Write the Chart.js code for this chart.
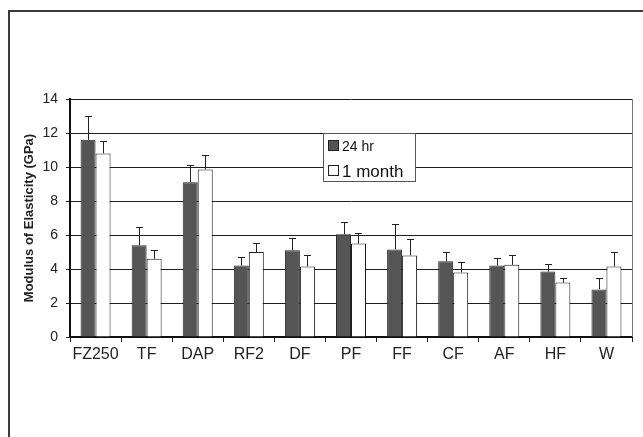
<!DOCTYPE html>
<html>
<head>
<meta charset="utf-8">
<script src="https://cdn.jsdelivr.net/npm/chart.js@4/dist/chart.umd.min.js"></script>
<style>
html,body{margin:0;padding:0;background:#fff;}
#wrap{width:643px;height:437px;}
</style>
</head>
<body>
<div id="wrap"><canvas id="c" width="643" height="437"></canvas></div>
<script>
const categories = ['FZ250','TF','DAP','RF2','DF','PF','FF','CF','AF','HF','W'];
const seriesNames = ['24 hr','1 month'];
const values24hr = [11.6, 5.4, 9.1, 4.2, 5.1, 6.05, 5.15, 4.45, 4.2, 3.85, 2.8];
const values1month = [10.8, 4.6, 9.85, 5.0, 4.15, 5.5, 4.8, 3.8, 4.25, 3.2, 4.15];
const sd24hr = [1.4, 1.05, 1.0, 0.5, 0.75, 0.7, 1.5, 0.55, 0.45, 0.45, 0.7];
const sd1month = [0.75, 0.5, 0.85, 0.55, 0.7, 0.6, 0.95, 0.6, 0.55, 0.25, 0.85];
const yTicks = [0, 2, 4, 6, 8, 10, 12, 14];

const FONT = '"Liberation Sans", Arial, sans-serif';

const errorBars = {
  id: 'errorBars',
  afterDatasetsDraw(chart) {
    const ctx = chart.ctx;
    const ys = chart.scales.y;
    chart.data.datasets.forEach((ds, di) => {
      const meta = chart.getDatasetMeta(di);
      meta.data.forEach((bar, i) => {
        const top = ys.getPixelForValue(ds.data[i] + ds.errors[i]);
        const base = ys.getPixelForValue(ds.data[i]);
        const x = Math.round(bar.x) + 0.5;
        ctx.save();
        ctx.strokeStyle = '#222';
        ctx.lineWidth = 1;
        ctx.beginPath();
        ctx.moveTo(x, base);
        ctx.lineTo(x, Math.round(top) + 0.5);
        ctx.moveTo(x - 3.5, Math.round(top) + 0.5);
        ctx.lineTo(x + 3.5, Math.round(top) + 0.5);
        ctx.stroke();
        ctx.restore();
      });
    });
  }
};

const frame = {
  id: 'frame',
  beforeDraw(chart) {
    const ctx = chart.ctx;
    ctx.save();
    ctx.fillStyle = '#fff';
    ctx.fillRect(0, 0, chart.width, chart.height);
    ctx.strokeStyle = '#3a3a3a';
    ctx.lineWidth = 2;
    ctx.beginPath();
    ctx.moveTo(9, chart.height);
    ctx.lineTo(9, 11);
    ctx.lineTo(chart.width, 11);
    ctx.stroke();
    ctx.restore();
  },
  afterDatasetsDraw(chart) {
    const ctx = chart.ctx;
    const a = chart.chartArea;
    ctx.save();
    ctx.strokeStyle = '#777';
    ctx.lineWidth = 1;
    ctx.beginPath();
    ctx.moveTo(Math.round(a.right) + 0.5, a.top);
    ctx.lineTo(Math.round(a.right) + 0.5, a.bottom);
    ctx.stroke();
    ctx.restore();
  }
};

const boxLegend = {
  id: 'boxLegend',
  afterDraw(chart) {
    const ctx = chart.ctx;
    ctx.save();
    ctx.fillStyle = '#fff';
    ctx.fillRect(323, 133, 92, 48);
    ctx.strokeStyle = '#555';
    ctx.lineWidth = 1;
    ctx.strokeRect(323.5, 133.5, 92, 48);
    const ds = chart.data.datasets;
    ctx.fillStyle = ds[0].backgroundColor;
    ctx.fillRect(328, 140, 11, 11);
    ctx.strokeStyle = '#222';
    ctx.strokeRect(328.5, 140.5, 10, 10);
    ctx.fillStyle = '#111';
    ctx.textBaseline = 'alphabetic';
    ctx.font = '14px ' + FONT;
    ctx.fillText(ds[0].label, 342, 151);
    ctx.fillStyle = ds[1].backgroundColor;
    ctx.fillRect(328, 165, 11, 11);
    ctx.strokeStyle = '#222';
    ctx.strokeRect(328.5, 165.5, 10, 10);
    ctx.fillStyle = '#111';
    ctx.font = '17px ' + FONT;
    ctx.fillText(ds[1].label, 342, 177);
    ctx.restore();
  }
};

new Chart(document.getElementById('c'), {
  type: 'bar',
  data: {
    labels: categories,
    datasets: [
      {label: seriesNames[0], data: values24hr, errors: sd24hr, backgroundColor: '#555555', borderColor: '#2a2a2a', borderWidth: 1},
      {label: seriesNames[1], data: values1month, errors: sd1month, backgroundColor: '#ffffff', borderColor: '#1a1a1a', borderWidth: 1}
    ]
  },
  options: {
    responsive: false,
    animation: false,
    devicePixelRatio: 1,
    layout: {padding: {left: 0, right: 11, top: 99, bottom: 0}},
    datasets: {bar: {categoryPercentage: 0.587, barPercentage: 1.0}},
    plugins: {legend: {display: false}, tooltip: {enabled: false}},
    scales: {
      x: {
        offset: true,
        grid: {display: true, drawOnChartArea: false, drawTicks: true, tickLength: 5, offset: true, color: '#222', lineWidth: 1},
        border: {display: true, color: '#111', width: 2},
        ticks: {color: '#222', font: {family: FONT, size: 16}, padding: 3, maxRotation: 0, autoSkip: false},
        afterFit(s) { s.height = 100; }
      },
      y: {
        min: 0, max: 14,
        afterBuildTicks(s) { s.ticks = yTicks.map(v => ({value: v})); },
        grid: {color: '#1e1e1e', lineWidth: 1, tickLength: 4, drawTicks: true},
        border: {display: true, color: '#111', width: 2},
        ticks: {color: '#222', font: {family: FONT, size: 14}, padding: 8},
        title: {display: true, text: 'Modulus of Elasticity (GPa)', color: '#222', font: {family: FONT, size: 13, weight: 'bold'}, padding: {top: 22, bottom: 0}},
        afterFit(s) { s.width = 70; }
      }
    }
  },
  plugins: [frame, errorBars, boxLegend]
});
</script>
</body>
</html>
